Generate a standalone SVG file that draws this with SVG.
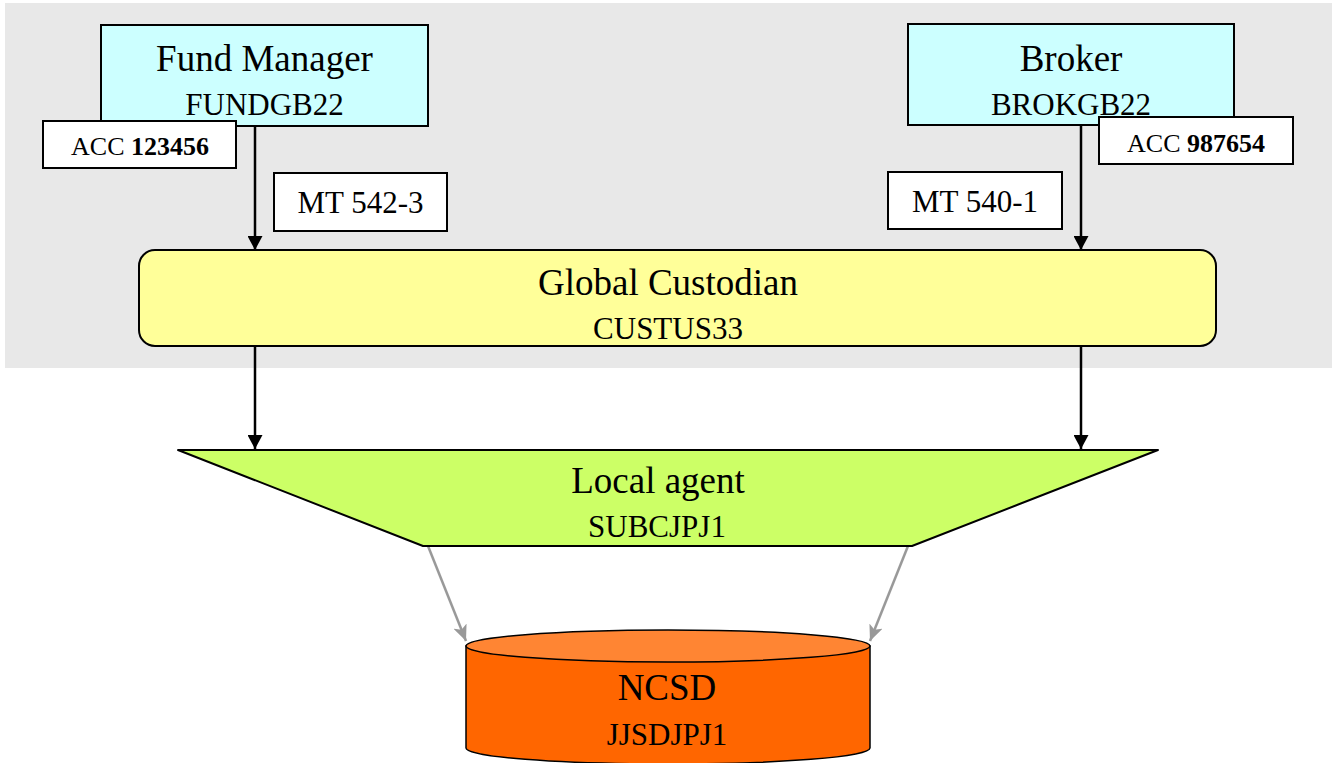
<svg xmlns="http://www.w3.org/2000/svg" width="1332" height="763" viewBox="0 0 1332 763">
  <defs>
    <!-- heads drawn along +x so orient="auto" follows the line direction -->
    <marker id="arrowBlack" viewBox="0 0 14 15" refX="14" refY="7.5" markerWidth="14" markerHeight="15" markerUnits="userSpaceOnUse" orient="auto">
      <path d="M0,0 L14,7.5 L0,15 Z" fill="#000"/>
    </marker>
    <marker id="arrowGrey" viewBox="0 0 16 14" refX="16" refY="7" markerWidth="16" markerHeight="14" markerUnits="userSpaceOnUse" orient="auto">
      <path d="M0,0 L16,7 L0,14 L4,7 Z" fill="#999"/>
    </marker>
  </defs>
  <style>
    text { font-family: "Liberation Serif", "Times New Roman", serif; fill: #000; text-anchor: middle; }
    .title { font-size: 37px; }
    .code { font-size: 31px; }
    .msg { font-size: 31px; }
    .acc { font-size: 26px; }
    .acc tspan.num { font-weight: bold; }
    .party { fill: #CCFFFF; stroke: #000; stroke-width: 2; }
    .label { fill: #FFFFFF; stroke: #000; stroke-width: 2; }
    .flow { stroke: #000; stroke-width: 2.5; fill: none; }
    .flow-grey { stroke: #999; stroke-width: 2.5; fill: none; }
  </style>

  <!-- shaded zone behind the instructing parties and the global custodian -->
  <rect id="zone" x="5" y="3" width="1327" height="365" fill="#E8E8E8"/>

  <g id="connectors">
    <line class="flow" x1="255" y1="126" x2="255" y2="250" marker-end="url(#arrowBlack)"/>
    <line class="flow" x1="1081" y1="125" x2="1081" y2="250" marker-end="url(#arrowBlack)"/>
    <line class="flow" x1="255" y1="346" x2="255" y2="449" marker-end="url(#arrowBlack)"/>
    <line class="flow" x1="1081" y1="346" x2="1081" y2="449" marker-end="url(#arrowBlack)"/>
    <line class="flow-grey" x1="428" y1="546" x2="466" y2="641" marker-end="url(#arrowGrey)"/>
    <line class="flow-grey" x1="908" y1="546" x2="870" y2="641" marker-end="url(#arrowGrey)"/>
  </g>

  <g id="fund-manager">
    <rect class="party" x="101" y="25" width="327" height="101"/>
    <text class="title" x="264.5" y="71">Fund Manager</text>
    <text class="code" x="264.5" y="115">FUNDGB22</text>
  </g>

  <g id="fund-account">
    <rect class="label" x="43" y="121" width="193" height="47"/>
    <text class="acc" x="140" y="155">ACC <tspan class="num">123456</tspan></text>
  </g>

  <g id="msg-542">
    <rect class="label" x="274" y="173" width="173" height="58"/>
    <text class="msg" x="360.5" y="213">MT 542-3</text>
  </g>

  <g id="broker">
    <rect class="party" x="908" y="24" width="326" height="101"/>
    <text class="title" x="1071" y="71">Broker</text>
    <text class="code" x="1071" y="115">BROKGB22</text>
  </g>

  <g id="broker-account">
    <rect class="label" x="1099" y="117" width="194" height="47"/>
    <text class="acc" x="1196" y="152">ACC <tspan class="num">987654</tspan></text>
  </g>

  <g id="msg-540">
    <rect class="label" x="888" y="172" width="174" height="57"/>
    <text class="msg" x="975" y="212">MT 540-1</text>
  </g>

  <g id="global-custodian">
    <rect x="139" y="250" width="1077" height="96" rx="16" ry="16" fill="#FFFF99" stroke="#000" stroke-width="2"/>
    <text class="title" x="668" y="295">Global Custodian</text>
    <text class="code" x="668" y="339">CUSTUS33</text>
  </g>

  <g id="local-agent">
    <polygon points="178,450 1158,450 912,546 423,546" fill="#CCFF66" stroke="#000" stroke-width="2" stroke-linejoin="round"/>
    <text class="title" x="658" y="493">Local agent</text>
    <text class="code" x="657" y="537">SUBCJPJ1</text>
  </g>

  <g id="ncsd">
    <path d="M466,646 L466,748 A202,16 0 0 0 870,748 L870,646 Z" fill="#FF6600" stroke="#000" stroke-width="1.5"/>
    <ellipse cx="668" cy="646" rx="202" ry="16" fill="#FF8533" stroke="#000" stroke-width="1.5"/>
    <text class="title" x="667" y="700">NCSD</text>
    <text class="code" x="667" y="745">JJSDJPJ1</text>
  </g>
</svg>
